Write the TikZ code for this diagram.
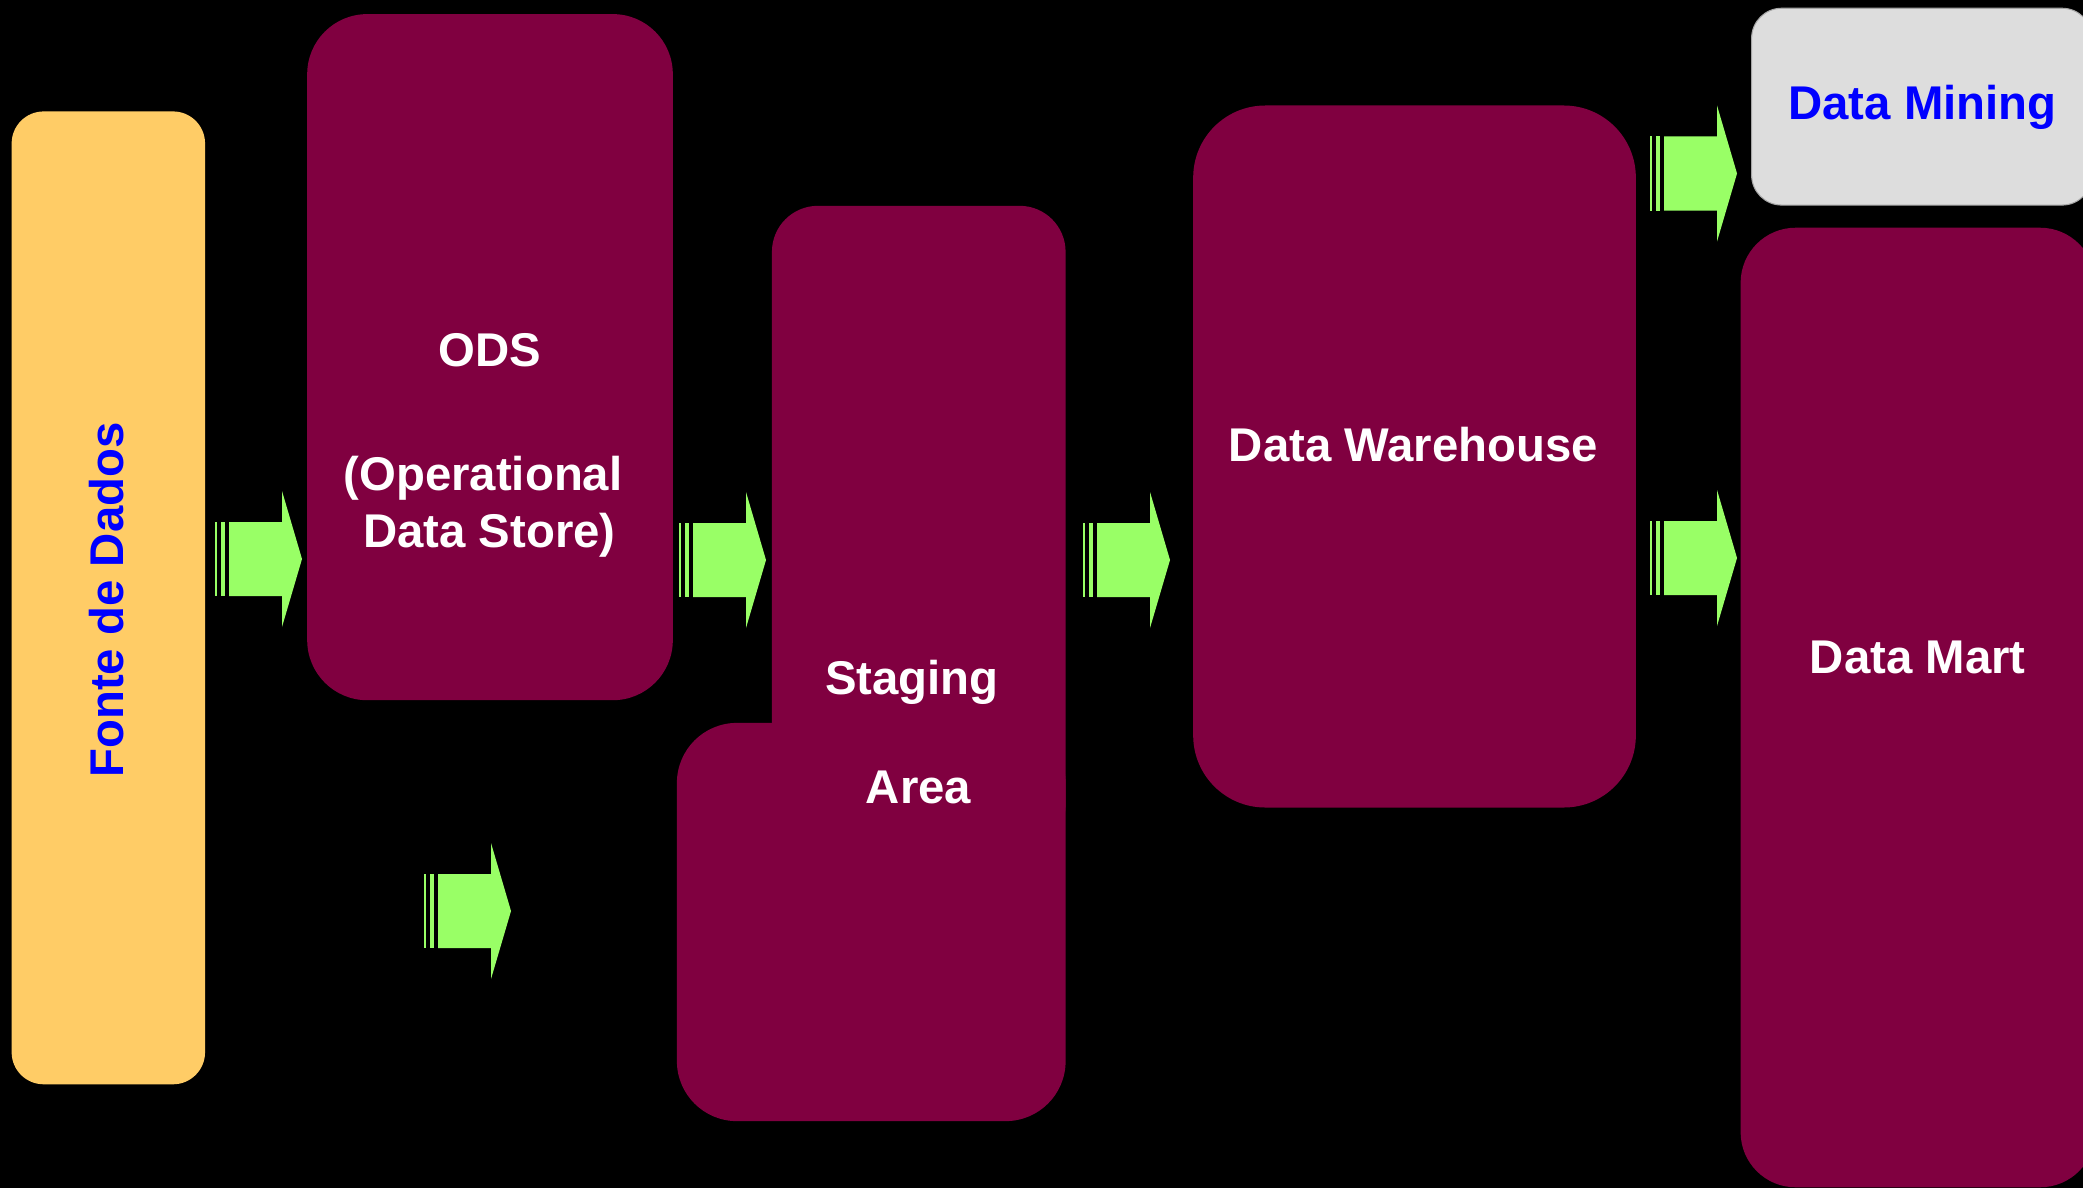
\documentclass[tikz,border=0pt]{standalone}
\usepackage{fontspec}
\setmainfont{Liberation Sans}
\definecolor{wine}{RGB}{128,0,64}
\definecolor{sand}{RGB}{255,204,102}
\definecolor{silver}{RGB}{221,221,221}
\definecolor{lime}{RGB}{153,255,102}
\definecolor{pureblue}{RGB}{0,0,255}
\tikzset{
  box/.style={rectangle, inner sep=0pt, outer sep=0pt},
  winebox/.style={box, fill=wine},
  lbl/.style={inner sep=0pt, outer sep=0pt, anchor=base, font=\bfseries\fontsize{13.46}{16}\selectfont},
  whitelbl/.style={lbl, text=white},
  bluelbl/.style={lbl, text=pureblue},
  pics/flowarrow/.style={code={
    \fill[lime] (0,-37) rectangle (1.5,37);
    \fill[lime] (5.5,-37) rectangle (9.5,37);
    \fill[lime] (14,-37) -- (67,-37) -- (67,-68) -- (87,0) -- (67,68) -- (67,37) -- (14,37) -- cycle;
  }}
}
\begin{document}
\begin{tikzpicture}[x=0.01cm, y=-0.01cm]
  \useasboundingbox (0,0) rectangle (2083,1188);
  \fill[black] (0,0) rectangle (2083,1188);
  \clip (0,0) rectangle (2083,1188);

  % source systems
  \node[box, fill=sand, rounded corners=0.32cm, minimum width=1.933cm, minimum height=9.723cm] (src) at (108.35,597.85) {};
  \node[bluelbl, rotate=90] (srcT) at (123,600) {Fonte de Dados};

  % operational data store
  \node[winebox, rounded corners=0.6cm, minimum width=3.654cm, minimum height=6.857cm] (ods) at (490,357.15) {};
  \node[whitelbl] (odsT1) at (490,366.6) {ODS};
  \node[whitelbl] (odsT2) at (483,490.2) {(Operational};
  \node[whitelbl] (odsT3) at (489.5,547.3) {Data Store)};

  % staging area: two overlapping rounded blocks
  \node[winebox, rounded corners=0.46cm, minimum width=2.935cm, minimum height=6.45cm] (stgU) at (918.75,528.5) {};
  \node[winebox, rounded corners=0.6cm, minimum width=3.885cm, minimum height=3.98cm] (stgL) at (871.25,922) {};
  \node[whitelbl] (stgT1) at (912,694) {Staging};
  \node[whitelbl] (stgT2) at (918.5,803) {Area};

  % data warehouse
  \node[winebox, rounded corners=0.72cm, minimum width=4.424cm, minimum height=7.016cm] (dw) at (1414.5,456.5) {};
  \node[whitelbl] (dwT) at (1413.5,461) {Data Warehouse};

  % data mining
  \node[box, fill=silver, draw=gray!70, line width=0.3pt, rounded corners=0.3cm, minimum width=3.403cm, minimum height=1.967cm] (mining) at (1921.85,106.65) {};
  \node[bluelbl] (miningT) at (1922.5,120) {Data Mining};

  % data mart
  \node[winebox, rounded corners=0.55cm, minimum width=3.543cm, minimum height=9.59cm] (mart) at (1917.85,707.5) {};
  \node[whitelbl] (martT) at (1917.8,673.8) {Data Mart};

  % flow arrows
  \coordinate (a1) at (215,559);
  \coordinate (a2) at (679,560);
  \coordinate (a3) at (1083,560);
  \coordinate (a4) at (1650,173.5);
  \coordinate (a5) at (1650,558);
  \coordinate (a6) at (424,911);
  \pic at (a1) {flowarrow};
  \pic at (a2) {flowarrow};
  \pic at (a3) {flowarrow};
  \pic at (a4) {flowarrow};
  \pic at (a5) {flowarrow};
  \pic at (a6) {flowarrow};
\end{tikzpicture}
\end{document}
